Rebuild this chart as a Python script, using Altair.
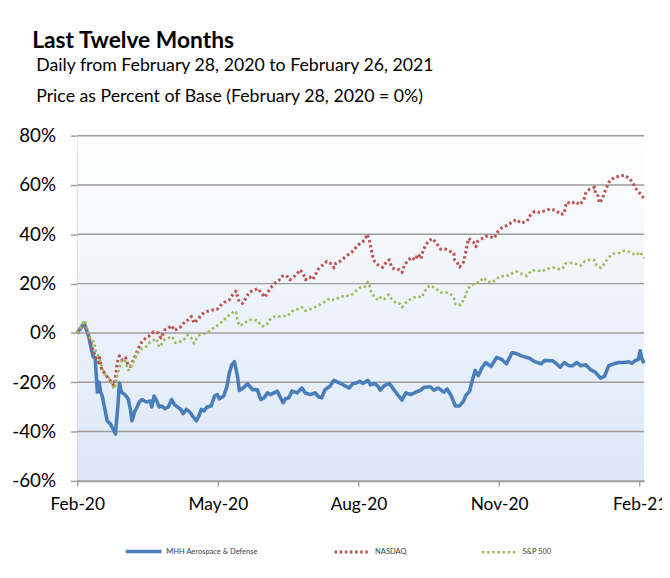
import altair as alt
import pandas as pd

TITLE = "Last Twelve Months"
SUB1 = "Daily from February 28, 2020 to February 26, 2021"
SUB2 = "Price as Percent of Base (February 28, 2020 = 0%)"
SERIES = ["MHH Aerospace & Defense", "NASDAQ", "S&P 500"]
COLORS = ["#4A7EBB", "#C0504D", "#9BBB59"]
TICK_POS = [0, 63, 126, 189, 252]
TICK_LABELS = ["Feb-20", "May-20", "Aug-20", "Nov-20", "Feb-21"]
Y_TICKS = [-60, -40, -20, 0, 20, 40, 60, 80]

# trading-day index (x) and percent change vs base (y)
mhh_x = [0, 1.6, 3.1, 3.8, 5.0, 6.1, 7.1, 8.0, 9.0, 9.8, 10.5, 11.2, 12.4, 13.4, 14.9, 16.4, 17.1, 18.2, 18.9, 19.8,
         21.3, 22.8, 23.8, 24.5, 25.7, 26.8, 27.8, 29.0, 30.2, 31.2, 32.7, 33.4, 34.4, 35.6, 36.7, 37.8, 39.3, 40.8,
         42.3, 43.5, 44.9, 46.4, 47.4, 48.9, 50.4, 51.9, 53.4, 54.5, 55.6, 56.8, 58.2, 60.0, 61.5, 62.7, 63.7, 65.6,
         67.1, 68.1, 69.2, 70.4, 71.8, 72.6, 74.0, 76.3, 78.5, 80.7, 82.2, 83.7, 85.2, 86.6, 88.1, 89.6, 91.1, 92.2,
         93.3, 94.8, 96.2, 98.5, 100.7, 102.1, 104.4, 106.6, 108.1, 109.5, 111.0, 113.2, 115.0, 116.9, 119.1, 121.8,
         123.6, 125.1, 126.5, 128.0, 130.2, 131.4, 133.2, 134.7, 135.7, 137.6, 139.8, 141.3, 143.5, 145.5, 147.2,
         149.4, 151.7, 153.9, 155.4, 158.3, 159.8, 161.7, 164.2, 165.7, 167.6, 169.4, 171.2, 173.1, 174.1, 175.8,
         177.1, 178.3, 179.7, 181.2, 183.0, 185.4, 187.9, 190.1, 192.3, 194.8, 196.7, 199.0, 202.7, 204.9, 207.8,
         209.3, 213.0, 214.5, 216.4, 218.2, 220.4, 221.9, 223.8, 225.6, 227.8, 230.0, 232.2, 234.4, 236.2, 238.1,
         240.3, 242.6, 244.8, 247.0, 248.5, 250.0, 251.4, 252.2, 252.9, 253.9]
mhh_y = [0, 2.1, 4, 2, -1, -5.6, -9.6, -10, -24, -20, -24, -25.6, -31, -35.6, -37, -39.6, -41, -29.6, -20.3, -24,
         -25, -26.7, -31, -35.6, -32, -30, -28, -27, -27.6, -28, -27.6, -30, -25.6, -27.6, -30, -29.6, -30.7, -30,
         -27, -29, -30, -31, -32.7, -31, -32, -34, -35.6, -33.6, -31, -31.6, -30, -29.6, -25.6, -25, -26.7, -25.6,
         -21.6, -16.3, -13, -11.6, -17.6, -23.3, -22.6, -20.6, -23, -23, -27, -26.3, -24.3, -25, -24.3, -23.6, -26.3, -28.3,
         -26.7, -26.3, -23.6, -24.3, -22.3, -24.3, -25, -24.3, -25.9, -26.3, -23, -21.6, -19.2, -20, -21, -22.3,
         -20.5, -20.3, -19.6, -20.5, -19.2, -21, -20.5, -21.6, -23.2, -21.3, -20.5, -22.3, -25, -27.2, -24.3,
         -25, -24, -23.2, -22, -21.9, -23.2, -22.3, -24, -22.7, -25.6, -29.6, -29.6, -27.6, -25.3, -23.6,
         -18.9, -15.2, -17.3, -14.3, -12, -13.6, -9.9, -10.7, -12.5, -8, -8.3, -9.3, -10.3, -11.6, -12.5,
         -11.2, -11.3, -12.3, -13.9, -12, -13.3, -13.3, -12, -13.3, -12.9, -14.9, -16, -18.3, -17.6, -13.3,
         -12.5, -12, -12, -11.7, -12.3, -11.2, -10.7, -7.2, -10.3, -12.3]

nas_x = [0, 1.6, 3.1, 3.8, 4.6, 5.6, 6.5, 7.5, 8.6, 9.5, 10.0, 10.9, 12.0, 13.0, 14.2, 15.4, 16.4, 17.1, 17.9, 18.9,
         20.1, 21.6, 22.8, 23.8, 25.3, 26.3, 27.5, 29.0, 30.7, 31.9, 34.1, 36.4, 37.5, 39.3, 40.8, 42.3, 43.5, 44.9,
         46.7, 48.2, 49.7, 51.1, 52.3, 54.1, 55.6, 57.1, 58.5, 60.7, 62.7, 64.4, 65.9, 68.1, 69.6, 71.1, 71.8, 72.6,
         74.1, 75.5, 77.0, 79.2, 81.0, 82.2, 84.0, 85.4, 86.6, 88.8, 90.3, 91.8, 93.7, 95.2, 97.0, 98.5, 99.9, 101.4,
         102.2, 104.1, 105.5, 106.9, 108.1, 110.0, 111.8, 114.0, 115.0, 115.9, 118.0, 119.9, 121.8, 123.6, 125.1,
         126.8, 128.8, 129.9, 131.0, 132.2, 133.2, 134.7, 136.9, 138.7, 139.8, 141.0, 142.8, 144.3, 145.5, 146.5,
         148.0, 149.9, 151.4, 152.8, 154.0, 154.9, 156.1, 157.3, 159.1, 160.8, 162.8, 165.0, 167.2, 168.7, 169.1,
         170.1, 171.3, 173.1, 173.8, 174.3, 175.3, 177.5, 178.6, 179.3, 180.8, 183.0, 184.5, 186.8, 188.3, 190.4,
         192.6, 194.5, 196.7, 199.0, 201.5, 203.0, 204.9, 207.1, 209.3, 212.0, 214.5, 216.7, 218.2, 218.6, 219.4,
         221.1, 223.3, 225.1, 227.0, 227.8, 229.6, 231.8, 232.2, 233.3, 234.0, 235.2, 236.2, 237.4, 238.6, 240.6,
         243.0, 245.2, 247.4, 248.9, 250.4, 251.4, 252.2, 253.9]
nas_y = [0, 2, 3.6, 2.5, 0.5, -2.5, -5.6, -8, -10.5, -12, -10, -14.7, -16, -17.3, -18.7, -20, -21.3, -18, -12, -9.3,
         -11, -10, -13, -13.6, -10.7, -8.7, -6, -3.6, -2, -1.5, 0.4, 0, -2, 1.3, 2, 3, 1, 1.6,
         2.7, 4.7, 5.3, 6.7, 4, 5.5, 7.3, 8.5, 8.8, 9.3, 9.6, 11.3, 12.4, 13.3, 15.5, 17, 14.8, 12.5,
         12, 14, 16.5, 17.3, 18, 16.5, 14.5, 16.5, 18.3, 20.3, 21.3, 23, 23.3, 21.5, 22.7, 24, 25.6, 23.6,
         21.6, 22.7, 21.6, 24, 26, 27.6, 29, 28, 26.4, 28.3, 29.2, 30.7, 32, 33.2, 35,
         36.4, 37.6, 40, 37.2, 31.6, 29, 27.6, 26.6, 29.2, 29.6, 26.4, 25.8, 25.6, 24.5, 27.3,
         29.3, 30.7, 29.6, 32, 30.1, 33.2, 35.5, 37.2, 38.3, 36.5, 34, 34, 33, 32.3, 29.5,
         28.8, 26.7, 28.8, 31.6, 34, 38.3, 36.8, 35, 37, 38, 39.2, 39.2, 38.4, 40.9, 42.8,
         43.6, 44.8, 46, 44.5, 45.3, 47.7, 49.3, 48.9, 49.5, 50.3, 49.6, 48, 48.5, 51, 53,
         52.4, 53.2, 52, 54, 56.6, 58.4, 59, 56.4, 55.6, 52.7, 54.4, 56.9, 59.4, 61.8, 63,
         63.6, 64, 62.6, 60.8, 58.4, 57.3, 56.5, 54.5]

sp_x = [0, 1.2, 2.1, 3.1, 3.5, 4.1, 5.0, 6.1, 7.5, 8.3, 9.0, 9.8, 10.5, 11.2, 12.4, 13.4, 14.5, 15.4, 16.4, 17.1,
        17.9, 18.6, 19.4, 20.4, 21.6, 22.8, 23.8, 24.5, 25.7, 26.8, 28.2, 29.7, 31.2, 32.7, 34.1, 35.6, 36.7, 37.8,
        39.3, 40.8, 42.5, 44.0, 46.0, 47.4, 49.4, 51.1, 52.3, 54.1, 55.6, 57.8, 60.0, 62.2, 64.1, 65.6, 67.1, 68.9,
        70.1, 71.1, 71.8, 72.6, 73.3, 74.8, 77.0, 79.2, 81.0, 82.2, 82.9, 84.7, 86.2, 88.4, 90.3, 92.2, 94.3, 96.2,
        98.5, 100.7, 102.1, 104.4, 106.3, 108.4, 110.6, 113.2, 115.2, 117.4, 119.9, 122.4, 124.6, 126.5, 128.8,
        130.2, 131.0, 131.7, 133.2, 134.7, 135.7, 137.3, 139.4, 141.0, 143.1, 144.6, 145.5, 147.2, 149.0, 150.9,
        152.8, 154.3, 155.4, 156.8, 158.3, 160.5, 162.8, 165.0, 166.9, 168.7, 169.4, 170.1, 171.6, 173.1, 174.1,
        175.0, 176.8, 179.0, 180.0, 182.0, 183.9, 186.0, 187.9, 190.1, 192.3, 194.5, 196.7, 199.0, 201.5, 203.4,
        205.6, 208.1, 210.8, 213.3, 215.2, 217.4, 218.6, 220.8, 223.3, 225.6, 227.5, 229.6, 231.8, 232.7, 234.7,
        236.4, 237.8, 240.1, 242.6, 245.1, 247.7, 250.2, 252.2, 253.9]
sp_y = [0, 1.3, 3.5, 4.5, 4.9, 2.7, 0, -3, -3.6, -7.5, -8.5, -10, -12.4, -14.4, -16.8, -17.3, -18.7, -20.7, -22.7, -21.3,
        -17, -15, -12, -10.7, -11.5, -15, -15, -12.7, -11, -8.5, -6.7, -6, -5.3, -3.6, -3, -2.4, -5.7, -4.5,
        -2.4, -2, -1.5, -4, -3.5, -3.2, -0.8, -2.1, -4.2, -1.3, -0.5, 0, 1.3, 2.7, 4, 5, 6.7, 7.5,
        8.8, 8.5, 5, 3, 3.1, 4, 5.3, 5.3, 4.9, 3, 2.7, 3.1, 5.3, 6.7, 6.7, 6.9, 6.9, 8.8,
        9.6, 10.5, 9, 9.6, 10.4, 11.3, 12.5, 14, 13.3, 14.4, 15.1, 15.1, 16.8, 18.4, 18.7,
        20.7, 19, 16.4, 14.5, 13.3, 14.4, 13.5, 15.5, 13.5, 11.9, 11.9, 10.5, 12.3, 13.5, 14.4,
        14.8, 14.4, 16.4, 18.5, 19.3, 18, 16.4, 16.4, 16, 14.4, 11.7, 12, 11.3, 13.3, 15.5,
        18, 19.5, 20.4, 20.4, 22.4, 20.8, 20.4, 22.1, 23, 23, 24, 25, 24, 23.1, 25.3,
        25.5, 25, 26, 26.5, 25.9, 26.1, 28.1, 28.4, 28, 27.3, 29.2, 29.7, 29.5, 27.3, 26.4,
        28.3, 30.4, 32.1, 32.4, 33.3, 32.8, 31.5, 32.8, 30.4]

rows = []
for name, xs, ys in zip(SERIES, [mhh_x, nas_x, sp_x], [mhh_y, nas_y, sp_y]):
    for xv, yv in zip(xs, ys):
        rows.append({"series": name, "t": xv, "pct": yv})
df = pd.DataFrame(rows)

W, H = 573, 349
GRID = "#9c9c9c"

x_scale = alt.Scale(domain=[0, 254], nice=False, zero=False)
y_scale = alt.Scale(domain=[-60, 80], nice=False)

label_expr = ("[" + ",".join("'%s'" % s for s in TICK_LABELS) + "][indexof(["
              + ",".join(str(p) for p in TICK_POS) + "], datum.value)]")

leg = alt.Legend(
    orient="none", legendX=47, legendY=400, direction="horizontal", columns=3,
    title=None, symbolType="stroke", symbolSize=1296, symbolStrokeWidth=2,
    labelFont="Lato", labelFontSize=7.6, labelColor="#404040", labelOffset=3,
    columnPadding=70, padding=0,
)

# plot-area background (gradient)
background = alt.Chart(pd.DataFrame({"k": [0]})).mark_rect(
    fill=alt.LinearGradient(gradient="linear", x1=0, y1=0, x2=0, y2=1,
                            stops=[alt.GradientStop(color="#ffffff", offset=0),
                                   alt.GradientStop(color="#dbe7f7", offset=1)]),
).encode(x=alt.value(0), x2=alt.value(W), y=alt.value(0), y2=alt.value(H))

grid = alt.Chart(pd.DataFrame({"v": Y_TICKS})).mark_rule(color=GRID, strokeWidth=1.5).encode(
    y=alt.Y("v:Q", scale=y_scale),
    x=alt.value(0), x2=alt.value(W),
)

lines = alt.Chart(df).mark_line(strokeCap="butt", strokeJoin="round").encode(
    x=alt.X("t:Q", scale=x_scale,
            axis=alt.Axis(values=TICK_POS, labelExpr=label_expr, title=None, grid=False,
                          tickSize=5, tickColor=GRID, tickWidth=1.3, domainColor=GRID, domainWidth=1.5,
                          labelFont="Lato", labelFontSize=17.5, labelColor="black", labelPadding=10,
                          labelFlush=False, labelOverlap=False)),
    y=alt.Y("pct:Q", scale=y_scale,
            axis=alt.Axis(values=Y_TICKS, labelExpr="datum.value + '%'", title=None, grid=False,
                          tickSize=7, tickColor=GRID, tickWidth=1.5,
                          domainColor="#aaaaaa", domainWidth=1.5,
                          labelFont="Lato", labelFontSize=19, labelColor="black", labelPadding=15,
                          labelFlush=False, labelOverlap=False)),
    color=alt.Color("series:N", scale=alt.Scale(domain=SERIES, range=COLORS), legend=leg),
    strokeDash=alt.StrokeDash("series:N", scale=alt.Scale(domain=SERIES, range=[[1, 0], [2.5, 2.7], [2.5, 2.7]]),
                              legend=leg),
    strokeWidth=alt.StrokeWidth("series:N", scale=alt.Scale(domain=SERIES, range=[3.6, 2.6, 2.6]), legend=None),
)


def text_layer(txt, x, y, size, weight):
    return alt.Chart(pd.DataFrame({"label": [txt]})).mark_text(
        align="left", baseline="alphabetic", font="Lato", fontSize=size, fontWeight=weight, color="black"
    ).encode(x=alt.value(x), y=alt.value(y), text="label:N")


chart = alt.layer(
    background,
    grid,
    lines,
    text_layer(TITLE, -45.5, -89, 23, "bold"),
    text_layer(SUB1, -41.5, -65, 17.9, "normal"),
    text_layer(SUB2, -41.5, -34, 17.9, "normal"),
).properties(
    width=W, height=H,
    padding={"left": 70, "top": 126, "right": 18, "bottom": 86},
    autosize=alt.AutoSizeParams(type="none"),
    background="white",
).configure_view(stroke=None)

chart.save("out.html", embed_options={"renderer": "svg", "actions": False})
